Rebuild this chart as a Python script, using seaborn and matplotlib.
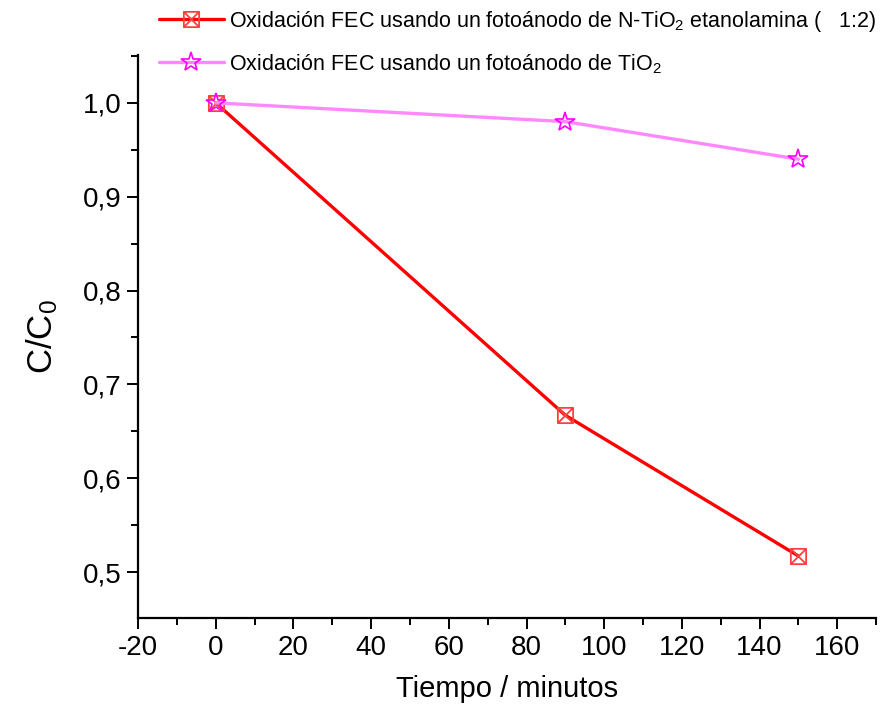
import numpy as np
import pandas as pd
import matplotlib
matplotlib.use("Agg")
import matplotlib.pyplot as plt
from matplotlib.path import Path
from matplotlib.ticker import MultipleLocator, FuncFormatter
import seaborn as sns

# Degradation data: relative concentration vs. time
tiempo = [0, 90, 150]
c_ntio2 = [1.0, 0.667, 0.517]
c_tio2 = [1.0, 0.98, 0.94]
series_labels = [
    "Oxidación FEC usando un fotoánodo de N-TiO$_2$ etanolamina (   1:2)",
    "Oxidación FEC usando un fotoánodo de TiO$_2$",
]

sns.set_theme(style="ticks")
plt.rcParams["font.family"] = ["Liberation Sans", "DejaVu Sans"]
plt.rcParams["mathtext.fontset"] = "custom"
plt.rcParams["mathtext.rm"] = "Liberation Sans"
plt.rcParams["mathtext.it"] = "Liberation Sans"
plt.rcParams["mathtext.bf"] = "Liberation Sans"
for key in ("text.color", "axes.labelcolor", "xtick.color", "ytick.color", "axes.edgecolor"):
    plt.rcParams[key] = "black"

df = pd.concat([
    pd.DataFrame({"t": tiempo, "c": c_ntio2, "serie": series_labels[0]}),
    pd.DataFrame({"t": tiempo, "c": c_tio2, "serie": series_labels[1]}),
])

# square with both diagonals drawn inside
box_x = Path(
    [(-1, -1), (1, -1), (1, 1), (-1, 1), (-1, -1), (-1, -1), (1, 1), (-1, 1), (1, -1)],
    [Path.MOVETO, Path.LINETO, Path.LINETO, Path.LINETO, Path.CLOSEPOLY,
     Path.MOVETO, Path.LINETO, Path.MOVETO, Path.LINETO],
)

fig = plt.figure(figsize=(8.85, 7.19), dpi=100)
ax = fig.add_axes([0.156, 0.1405, 0.834, 0.783])

d1 = df[df.serie == series_labels[0]]
d2 = df[df.serie == series_labels[1]]
sns.lineplot(data=d1, x="t", y="c", ax=ax, color="#ff0000", lw=2.4,
             marker=box_x, markersize=11, markerfacecolor="none",
             markeredgecolor="#ff4040", markeredgewidth=1.3,
             label=series_labels[0])
sns.lineplot(data=d2, x="t", y="c", ax=ax, color="#ff88ff", lw=2.4,
             marker="*", markersize=15, markerfacecolor="none",
             markeredgecolor="#ff00ff", markeredgewidth=1.2,
             label=series_labels[1])

ax.set_xlim(-20, 170)
ax.set_ylim(0.451, 1.051)
ax.xaxis.set_major_locator(MultipleLocator(20))
ax.xaxis.set_minor_locator(MultipleLocator(10))
ax.yaxis.set_major_locator(MultipleLocator(0.1))
ax.yaxis.set_minor_locator(MultipleLocator(0.05))
ax.yaxis.set_major_formatter(FuncFormatter(lambda v, p: f"{v:.1f}".replace(".", ",")))
ax.xaxis.set_major_formatter(FuncFormatter(lambda v, p: f"{v:.0f}"))

for s in ("top", "right"):
    ax.spines[s].set_visible(False)
for s in ("left", "bottom"):
    ax.spines[s].set_linewidth(1.6)
    ax.spines[s].set_color("black")
ax.tick_params(axis="both", which="major", direction="out", length=8, width=1.4,
               labelsize=20, colors="black", pad=4)
ax.tick_params(axis="both", which="minor", direction="out", length=5, width=1.4)

ax.set_xlabel("Tiempo / minutos", fontsize=21, labelpad=10)
ax.set_ylabel("C/C$_0$", fontsize=25, labelpad=16)

leg = ax.legend(loc="upper left", bbox_to_anchor=(0.17, 1.0), bbox_transform=fig.transFigure,
                frameon=False, handlelength=3.0, handletextpad=0.25,
                labelspacing=0.85, borderaxespad=0.0,
                prop={"family": ["Liberation Sans"], "size": 15.5})

fig.savefig("out.png", dpi=100)
